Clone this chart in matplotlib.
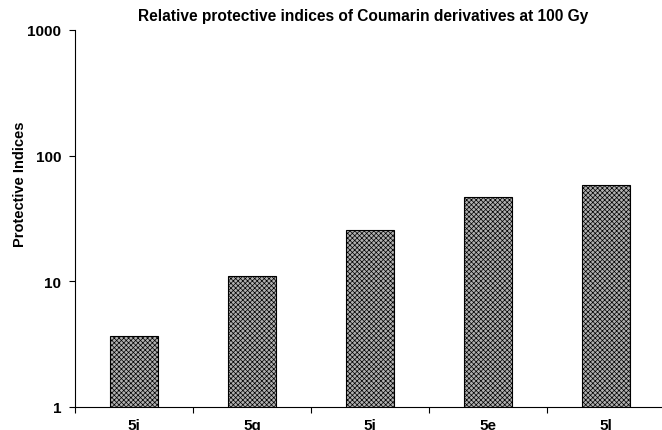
import numpy as np
import matplotlib.pyplot as plt

# dados do grafico
compounds = ["5j", "5g", "5i", "5e", "5l"]
protective_indices = [3.7, 11.0, 25.8, 46.5, 58.5]

TITLE = "Relative protective indices of Coumarin derivatives at 100 Gy"
YLABEL = "Protective Indices"

plt.rcParams['font.family'] = ['Liberation Sans', 'DejaVu Sans']
plt.rcParams['font.weight'] = 'bold'
plt.rcParams['hatch.color'] = '#4a4a4a'
plt.rcParams['hatch.linewidth'] = 0.5

fig = plt.figure(figsize=(6.62, 4.31), dpi=100)
ax = fig.add_axes([75 / 662, 1 - 408 / 431, 590 / 662, 377 / 431])

x = np.arange(len(compounds))
ax.bar(x, protective_indices, width=0.4, color='#b0b0b0', edgecolor='black',
       linewidth=0.8, hatch='xxxxxxx', zorder=2)

ax.set_yscale('log')
ax.set_ylim(1, 1000)
ax.set_xlim(-0.5, len(compounds) - 0.5)
ax.set_yticks([1, 10, 100, 1000])
ax.set_yticklabels(["1", "10", "100", "1000"], fontsize=11, fontweight='bold')
ax.yaxis.set_minor_locator(plt.NullLocator())

ax.set_xticks(x)
ax.set_xticklabels(compounds, fontsize=11, fontweight='bold')
ax.set_xticks(np.arange(len(compounds) + 1) - 0.5, minor=True)
ax.tick_params(axis='x', which='major', length=0, pad=8)
ax.tick_params(axis='x', which='minor', length=4, direction='out', width=0.8)
ax.tick_params(axis='y', which='major', length=4, direction='out', width=0.8, pad=6)

for side in ['top', 'right']:
    ax.spines[side].set_visible(False)
for side in ['left', 'bottom']:
    ax.spines[side].set_linewidth(0.8)

fig.text(20 / 662, 1 - 184 / 431, YLABEL, rotation=90, ha='center', va='center',
         fontsize=10.5, fontweight='bold')
fig.text(363 / 662, 1 - 17 / 431, TITLE, ha='center', va='center',
         fontsize=11.2, fontweight='bold')

fig.savefig("out.png", dpi=100)
